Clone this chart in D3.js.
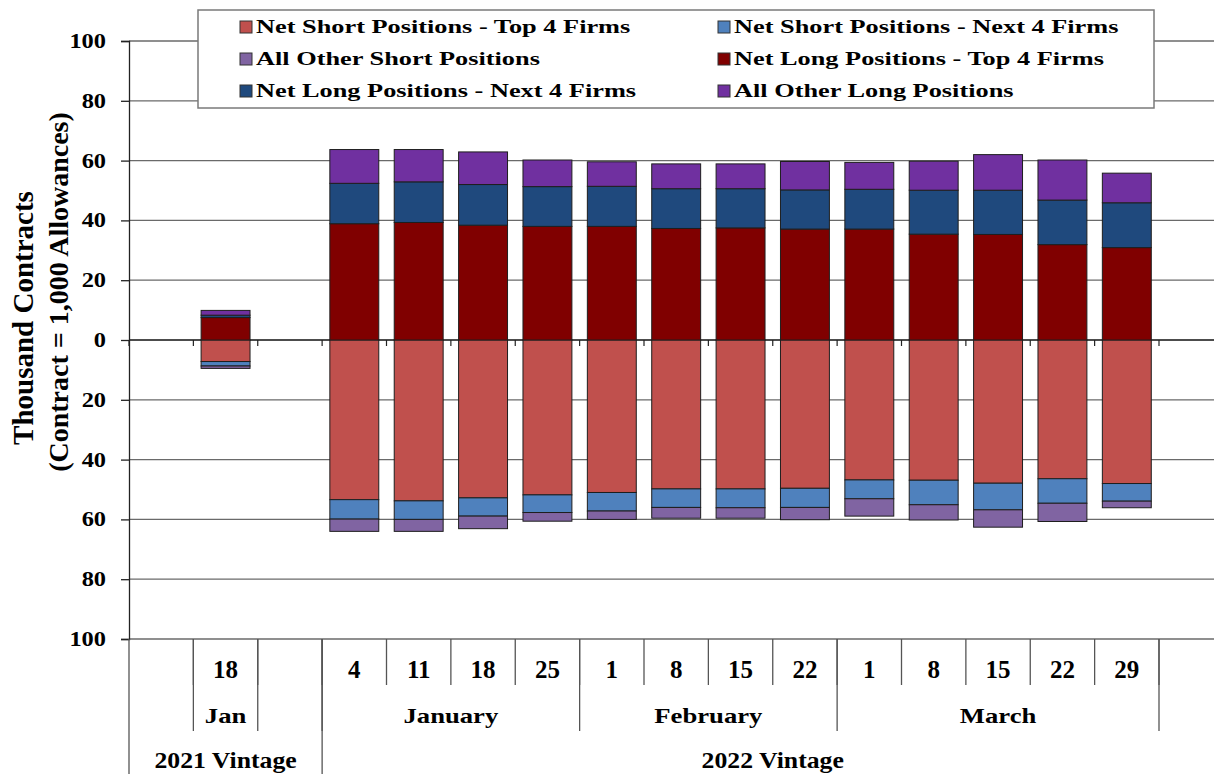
<!DOCTYPE html>
<html>
<head>
<meta charset="utf-8">
<script src="https://cdn.jsdelivr.net/npm/d3@7"></script>
<style>
body { margin: 0; background: #fff; }
text { font-family: "Liberation Serif", "Times New Roman", serif; font-weight: bold; fill: #000; }
</style>
</head>
<body>
<div id="chart"></div>
<script>
// slots along the category axis (blank slots have no bar)
const dayLabels = ["", "18", "", "4", "11", "18", "25", "1", "8", "15", "22", "1", "8", "15", "22", "29", ""];
const monthLabels = ["", "Jan", "", "January", "February", "March", ""];
const monthSpans = [1, 1, 1, 4, 4, 5, 1];
const vintageLabels = ["2021 Vintage", "2022 Vintage"];
const vintageSpans = [3, 14];

// thousand contracts
const shortTop4  = [null, 7.2, null, 53.4, 53.8, 52.8, 51.8, 51.0, 49.8, 49.8, 49.6, 46.8, 46.9, 47.9, 46.4, 48.0, null];
const shortNext4 = [null, 1.5, null, 6.5, 6.2, 6.1, 5.9, 6.2, 6.2, 6.3, 6.4, 6.3, 8.2, 8.9, 8.2, 5.9, null];
const shortOther = [null, 0.8, null, 4.1, 4.0, 4.2, 2.9, 2.8, 3.6, 3.5, 4.1, 5.8, 5.1, 5.8, 6.1, 2.2, null];
const longTop4   = [null, 7.5, null, 38.9, 39.3, 38.4, 38.0, 38.0, 37.3, 37.5, 37.1, 37.1, 35.4, 35.3, 31.9, 30.9, null];
const longNext4  = [null, 0.8, null, 13.5, 13.6, 13.6, 13.3, 13.4, 13.3, 13.1, 13.1, 13.3, 14.7, 14.8, 14.9, 15.0, null];
const longOther  = [null, 1.6, null, 11.3, 10.8, 10.9, 8.9, 8.2, 8.3, 8.3, 9.5, 9.0, 9.7, 11.9, 13.4, 9.9, null];

const seriesNames = [
  "Net Short Positions - Top 4 Firms", "Net Short Positions - Next 4 Firms",
  "All Other Short Positions", "Net Long Positions - Top 4 Firms",
  "Net Long Positions - Next 4 Firms", "All Other Long Positions"
];
const seriesColors = ["#c0504d", "#4f81bd", "#8064a2", "#800000", "#1f497d", "#7030a0"];
const yTicks = [-100, -80, -60, -40, -20, 0, 20, 40, 60, 80, 100];

const w = 1214, h = 774;
const plotLeft = 129, plotTop = 41, plotBottom = 639;
const step = 64.375;

const keys = ["st", "sn", "so", "lt", "ln", "lo"];
const table = dayLabels.map((d, i) => ({
  i,
  st: -(shortTop4[i] || 0), sn: -(shortNext4[i] || 0), so: -(shortOther[i] || 0),
  lt: longTop4[i] || 0, ln: longNext4[i] || 0, lo: longOther[i] || 0,
  has: longTop4[i] != null
}));

const stacked = d3.stack().keys(keys).offset(d3.stackOffsetDiverging)(table);

const x = d3.scaleBand()
  .domain(d3.range(dayLabels.length))
  .range([plotLeft, plotLeft + step * dayLabels.length])
  .paddingInner(0.24)
  .paddingOuter(0.12);

const y = d3.scaleLinear().domain([-100, 100]).range([plotBottom, plotTop]);

const svg = d3.select("#chart").append("svg")
  .attr("width", w)
  .attr("height", h);

svg.append("rect").attr("width", w).attr("height", h).attr("fill", "#fff");

// horizontal grid
svg.append("g").selectAll("line")
  .data(yTicks)
  .join("line")
  .attr("x1", plotLeft).attr("x2", x.range()[1])
  .attr("y1", d => y(d)).attr("y2", d => y(d))
  .attr("stroke", d => d === 0 ? "#111" : "#6a6a6a")
  .attr("stroke-width", 1.3);

// y axis
const yAxis = d3.axisLeft(y).tickValues(yTicks).tickSize(8).tickPadding(15)
  .tickFormat(d => Math.abs(d));
const yg = svg.append("g")
  .attr("transform", `translate(${plotLeft},0)`)
  .call(yAxis);
yg.select(".domain").attr("stroke", "#222").attr("stroke-width", 1.3);
yg.selectAll(".tick line").attr("stroke", "#222").attr("stroke-width", 1.3);
yg.selectAll(".tick text")
  .attr("font-size", 20)
  .attr("x", -23 / 1.22)
  .attr("transform", "scale(1.22,1)");

// category ticks on the zero line
svg.append("g").selectAll("line")
  .data(d3.range(dayLabels.length + 1))
  .join("line")
  .attr("x1", i => plotLeft + i * step).attr("x2", i => plotLeft + i * step)
  .attr("y1", y(0)).attr("y2", y(0) + 6)
  .attr("stroke", "#222").attr("stroke-width", 1.2);

// bars
svg.append("g").selectAll("g")
  .data(stacked)
  .join("g")
  .attr("fill", (d, k) => seriesColors[k])
  .selectAll("rect")
  .data(d => d.filter(v => v.data.has))
  .join("rect")
  .attr("x", v => x(v.data.i))
  .attr("width", x.bandwidth())
  .attr("y", v => y(Math.max(v[0], v[1])))
  .attr("height", v => Math.abs(y(v[0]) - y(v[1])))
  .attr("stroke", "#1e1e1e")
  .attr("stroke-width", 1);

// multi-level category labels
const lab = svg.append("g");
function stretched(g, tx, ty, txt, size, sx) {
  g.append("text")
    .attr("transform", `translate(${tx},${ty}) scale(${sx},1)`)
    .attr("text-anchor", "middle")
    .attr("font-size", size)
    .text(txt);
}

function sepLine(xx, y2) {
  lab.append("line")
    .attr("x1", xx).attr("x2", xx).attr("y1", plotBottom).attr("y2", y2)
    .attr("stroke", "#555").attr("stroke-width", 1.3);
}

// day level
dayLabels.forEach((d, i) => {
  stretched(lab, x(i) + x.bandwidth() / 2, 678, d, 25, 1);
  if (i > 0) sepLine(plotLeft + i * step, 685);
});
// month level
let pos = 0;
monthLabels.forEach((m, k) => {
  const x0 = plotLeft + pos * step, x1 = plotLeft + (pos + monthSpans[k]) * step;
  stretched(lab, (x0 + x1) / 2, 723, m, 21, 1.27);
  if (pos > 0) sepLine(x0, 731);
  pos += monthSpans[k];
});
// vintage level
pos = 0;
vintageLabels.forEach((v, k) => {
  const x0 = plotLeft + pos * step, x1 = plotLeft + (pos + vintageSpans[k]) * step;
  stretched(lab, (x0 + x1) / 2, 768, v, 23, 1.12);
  sepLine(x0, h);
  pos += vintageSpans[k];
});

// y title
svg.append("text")
  .attr("transform", "translate(33,318) rotate(-90)")
  .attr("text-anchor", "middle")
  .attr("font-size", 29)
  .text("Thousand Contracts");
svg.append("text")
  .attr("transform", "translate(68,292) rotate(-90)")
  .attr("text-anchor", "middle")
  .attr("font-size", 28)
  .text("(Contract = 1,000 Allowances)");

// legend
const lg = svg.append("g");
lg.append("rect")
  .attr("x", 198).attr("y", 10).attr("width", 956).attr("height", 98)
  .attr("fill", "#fff").attr("stroke", "#7a7a7a").attr("stroke-width", 1.5);
const legCols = [240, 718];
const legRows = [33, 65, 97];
seriesNames.forEach((name, k) => {
  const cx = legCols[k % 2], cy = legRows[Math.floor(k / 2)];
  lg.append("rect")
    .attr("x", cx).attr("y", cy - 12).attr("width", 12).attr("height", 12)
    .attr("fill", seriesColors[k]).attr("stroke", "#333").attr("stroke-width", 1);
  lg.append("text")
    .attr("transform", `translate(${cx + 16},${cy}) scale(1.35,1)`)
    .attr("font-size", 19.5)
    .text(name);
});
</script>
</body>
</html>
